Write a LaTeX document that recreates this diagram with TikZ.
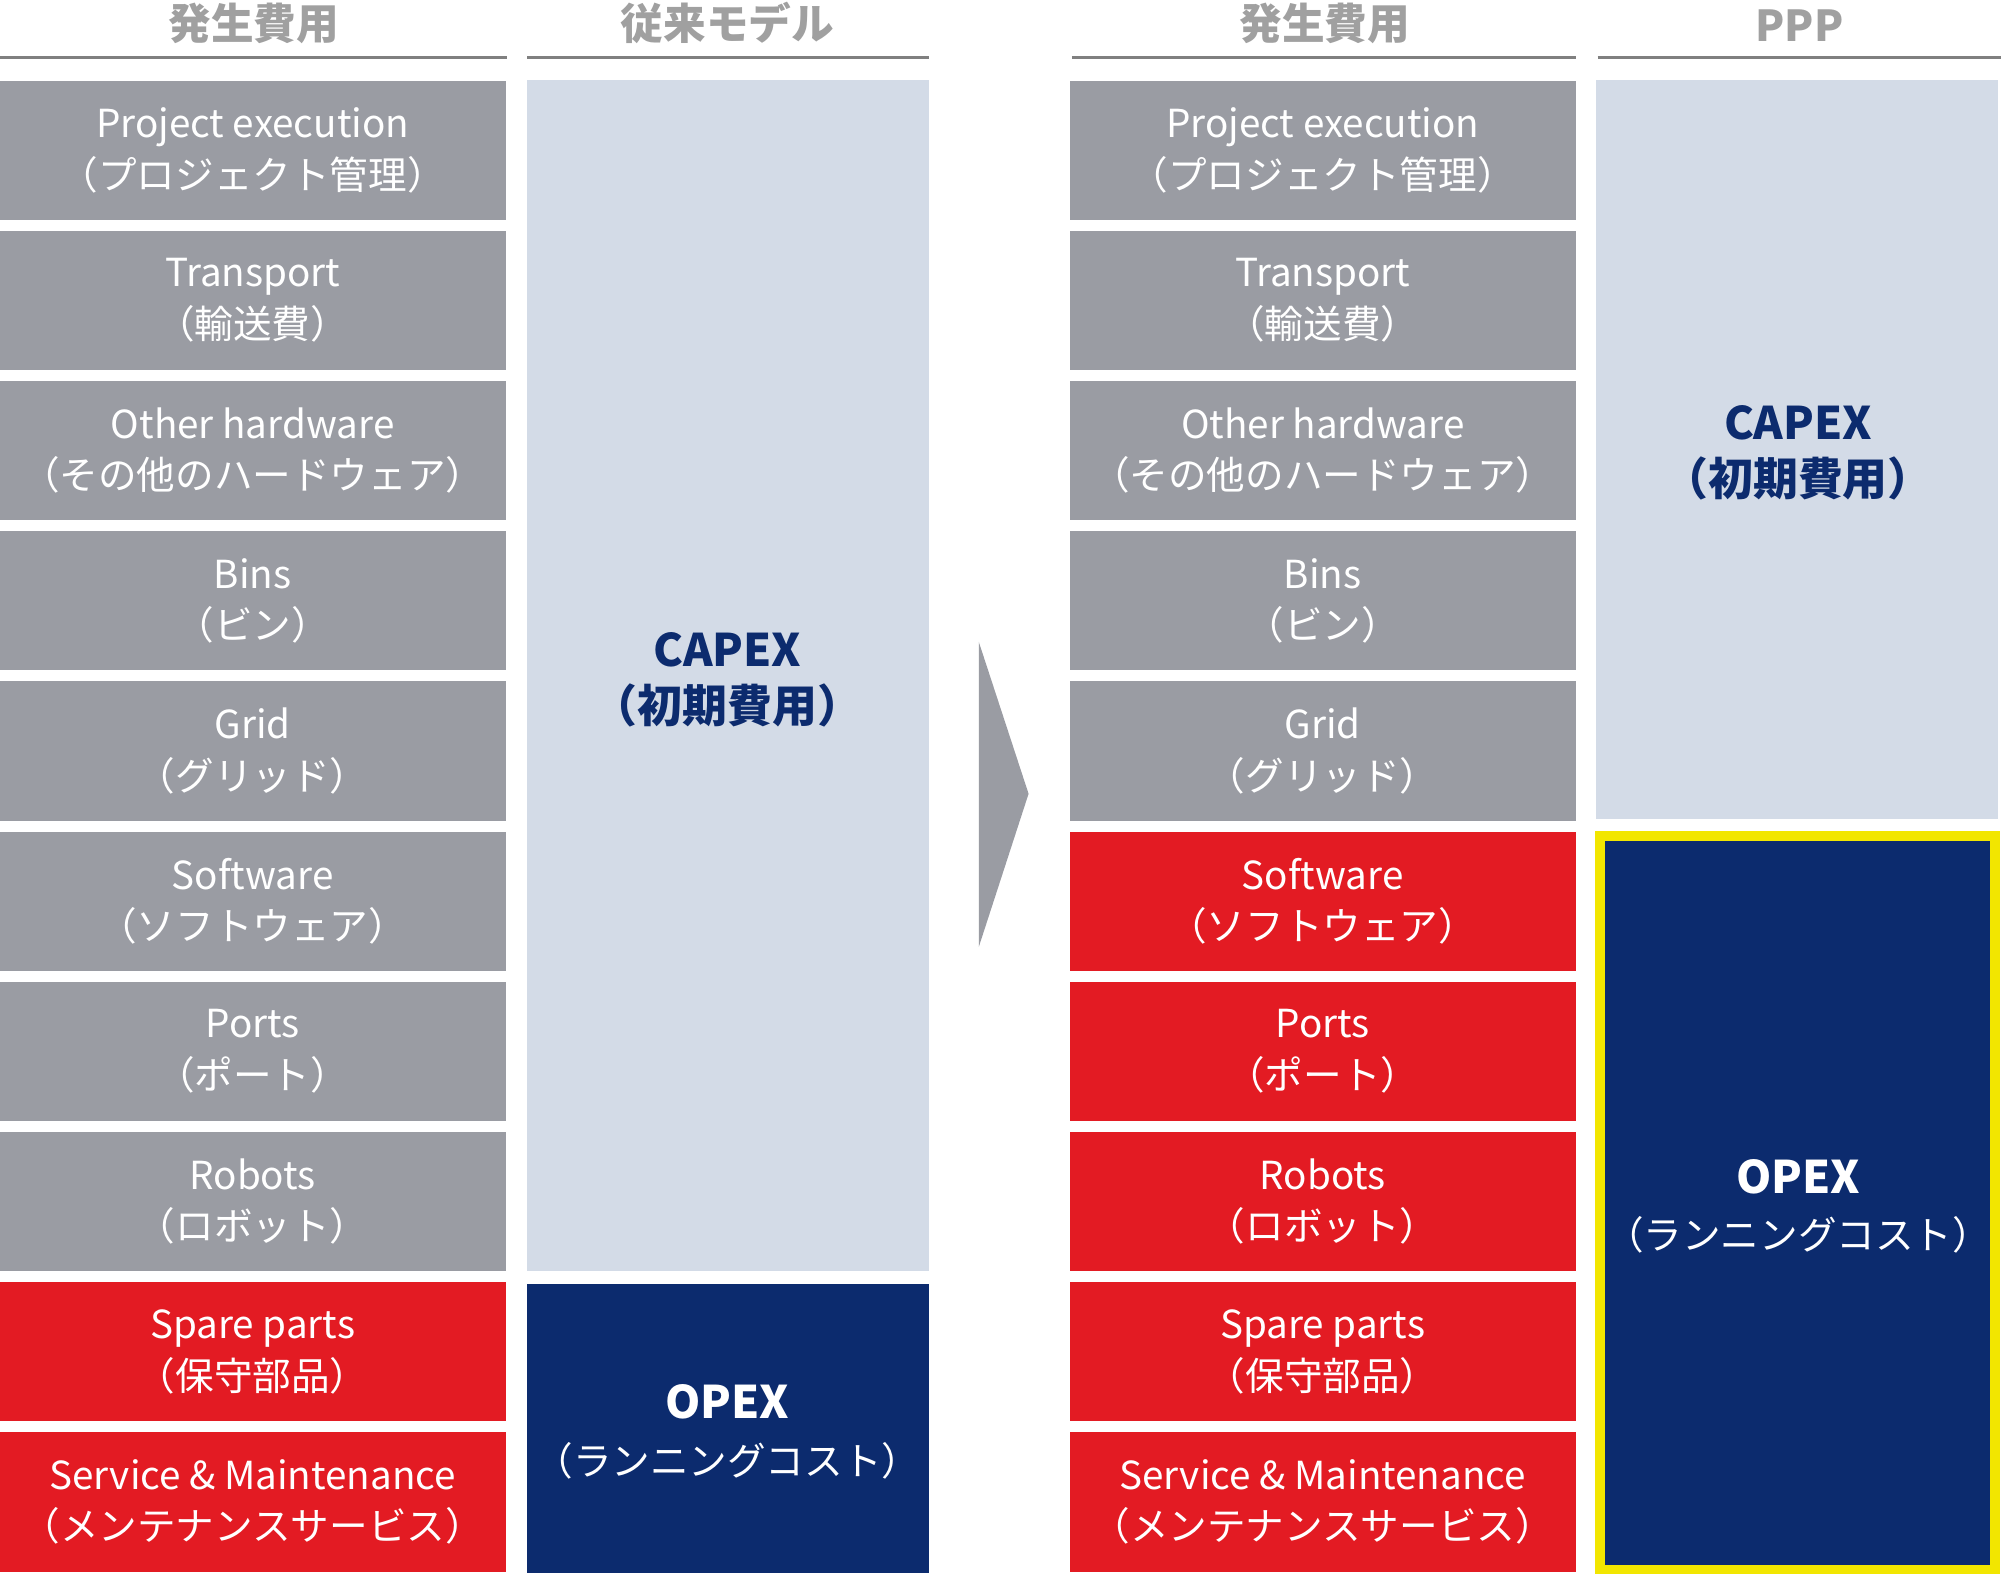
\documentclass[tikz,border=0pt]{standalone}
\usepackage{fontspec}
\setmainfont{Noto Sans CJK JP}
\newfontfamily\jpmed{Noto Sans CJK JP Medium}
\usetikzlibrary{positioning}
\definecolor{costgray}{HTML}{9A9CA3}
\definecolor{costred}{HTML}{E31B23}
\definecolor{navy}{HTML}{0C2B6E}
\definecolor{paleblue}{HTML}{D3DBE7}
\definecolor{headgray}{HTML}{A0A0A0}
\definecolor{ppyellow}{HTML}{F2E600}
\tikzset{
  cost/.style={minimum width=3.96cm,minimum height=1.09cm,inner sep=0pt,align=center,
    text=white,font=\fontsize{8.6}{11.5}\selectfont},
  head/.style={font=\fontsize{9.5}{11}\selectfont\bfseries,text=headgray},
  big/.style={inner sep=0pt,align=center,font=\fontsize{10}{12.5}\selectfont\bfseries}
}
\newcommand\jpsub[1]{{\normalfont\fontsize{8.6}{12.5}\selectfont #1}}
\begin{document}
\begin{tikzpicture}[x=0.01cm,y=-0.01cm]
\useasboundingbox (0,0) rectangle (1568,1233);
% headers
\node[head] (h1) at (199,18) {発生費用};
\node[head] (h2) at (570,18) {従来モデル};
\node[head] (h3) at (1038,18) {発生費用};
\node[head] (h4) at (1410,20) {PPP};
\draw[gray,line width=0.6pt] (0,45) -- (397,45) (413,45) -- (728,45)
  (840,45) -- (1235,45) (1252,45) -- (1568,45);
% cost rows
\foreach \i/\en/\jp in {1/Project execution/（プロジェクト管理）,2/Transport/（輸送費）,
    3/Other hardware/（その他のハードウェア）,4/Bins/（ビン）,5/Grid/（グリッド）,
    6/Software/（ソフトウェア）,7/Ports/（ポート）,8/Robots/（ロボット）,
    9/Spare parts/（保守部品）,10/Service \& Maintenance/（メンテナンスサービス）}{
  \pgfmathsetmacro{\yy}{117.7*\i}
  \ifnum\i>8 \def\lc{costred}\else\def\lc{costgray}\fi
  \ifnum\i>5 \def\rc{costred}\else\def\rc{costgray}\fi
  \node[cost,fill=\lc] (l\i) at (198,\yy) {\en\\\jp};
  \node[cost,fill=\rc] (r\i) at (1036.5,\yy) {\en\\\jp};
}
% traditional model
\fill[paleblue] (413,63) rectangle (728,996);
\node[big,text=navy] (capexa) at (570,533) {CAPEX\\{\jpmed（初期費用）}};
\fill[navy] (413,1006) rectangle (728,1233);
\node[big,text=white] (opexa) at (570,1122) {OPEX\\\jpsub{（ランニングコスト）}};
% arrow
\fill[costgray] (767,503) -- (806,622) -- (767,742) -- cycle;
% PPP
\fill[paleblue] (1251,63) rectangle (1566,642);
\node[big,text=navy] (capexb) at (1409,355) {CAPEX\\{\jpmed（初期費用）}};
\draw[fill=navy,draw=ppyellow,line width=2.2pt] (1254,655) rectangle (1563,1230);
\node[big,text=white] (opexb) at (1409,945) {OPEX\\\jpsub{（ランニングコスト）}};
\end{tikzpicture}
\end{document}
